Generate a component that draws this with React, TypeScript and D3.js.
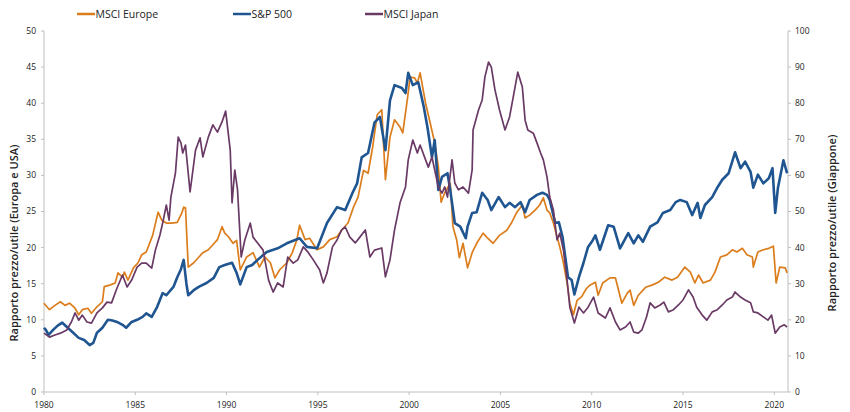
import React from "react";
import * as d3 from "d3";

const seriesNames = ["MSCI Europe", "S&P 500", "MSCI Japan"];
const seriesColors = ["#DC7D1C", "#1F5591", "#6A3A66"];

const xTicks = [1980, 1985, 1990, 1995, 2000, 2005, 2010, 2015, 2020];
const leftTicks = [0, 5, 10, 15, 20, 25, 30, 35, 40, 45, 50];
const rightTicks = [0, 10, 20, 30, 40, 50, 60, 70, 80, 90, 100];

const leftTitle = "Rapporto prezzo/utile (Europa e USA)";
const rightTitle = "Rapporto prezzo/utile (Giappone)";

// [year, P/E]
const europe: [number, number][] = [
  [1980.0,12.3],[1980.3,11.4],[1980.6,12.0],[1980.9,12.5],[1981.15,12.0],[1981.4,12.3],[1981.7,11.6],[1981.9,10.7],[1982.1,11.4],[1982.4,11.6],[1982.6,10.9],[1982.9,11.8],[1983.2,12.5],[1983.3,14.6],[1983.6,14.8],[1983.9,15.1],[1984.05,16.5],[1984.3,15.9],[1984.4,16.6],[1984.6,15.5],[1984.9,17.2],[1985.15,17.9],[1985.35,19.0],[1985.6,19.4],[1985.95,21.7],[1986.25,24.9],[1986.45,23.8],[1986.7,23.4],[1987.0,23.4],[1987.3,23.5],[1987.55,24.8],[1987.65,25.6],[1987.75,25.5],[1987.9,17.3],[1988.2,17.9],[1988.45,18.6],[1988.7,19.3],[1989.0,19.7],[1989.25,20.4],[1989.5,21.1],[1989.75,22.9],[1989.9,22.0],[1990.1,21.5],[1990.35,20.6],[1990.55,21.0],[1990.75,16.9],[1991.1,18.7],[1991.45,19.3],[1991.8,17.3],[1992.1,18.7],[1992.4,17.9],[1992.65,15.8],[1992.9,16.9],[1993.3,17.9],[1993.6,19.3],[1993.85,21.1],[1994.0,23.1],[1994.3,21.1],[1994.55,21.3],[1994.95,19.7],[1995.3,20.1],[1995.65,21.1],[1996.05,21.5],[1996.3,22.4],[1996.65,23.4],[1996.95,25.6],[1997.2,27.0],[1997.5,30.7],[1997.75,30.3],[1998.0,33.9],[1998.25,38.4],[1998.5,39.1],[1998.7,29.4],[1998.95,35.3],[1999.2,37.7],[1999.5,36.7],[1999.65,35.9],[1999.9,40.5],[2000.05,43.6],[2000.3,43.5],[2000.45,42.8],[2000.6,44.2],[2000.9,40.0],[2001.15,37.3],[2001.4,34.5],[2001.6,31.2],[2001.75,26.3],[2001.95,27.6],[2002.25,28.9],[2002.4,22.9],[2002.6,21.1],[2002.75,18.6],[2002.95,20.6],[2003.2,17.2],[2003.45,19.3],[2003.7,20.6],[2004.05,22.0],[2004.3,21.3],[2004.6,20.6],[2004.95,21.7],[2005.35,22.4],[2005.6,23.4],[2005.9,24.9],[2006.2,25.9],[2006.35,24.1],[2006.6,24.5],[2006.9,25.2],[2007.15,25.9],[2007.35,26.9],[2007.55,25.2],[2007.7,24.8],[2007.9,23.4],[2008.1,21.5],[2008.25,20.1],[2008.45,17.9],[2008.65,15.1],[2008.8,12.3],[2009.0,10.7],[2009.2,12.7],[2009.45,13.2],[2009.7,14.3],[2009.9,14.8],[2010.2,15.2],[2010.35,13.4],[2010.6,15.1],[2011.0,15.8],[2011.3,15.8],[2011.65,12.3],[2011.95,13.7],[2012.1,14.1],[2012.3,12.0],[2012.55,13.4],[2012.95,14.5],[2013.3,14.8],[2013.65,15.2],[2014.0,15.9],[2014.4,15.5],[2014.7,15.9],[2015.1,17.3],[2015.4,16.6],[2015.65,15.1],[2015.85,16.2],[2016.1,15.1],[2016.5,15.5],[2016.75,16.6],[2017.05,18.7],[2017.4,19.0],[2017.7,19.7],[2017.95,19.4],[2018.25,19.9],[2018.5,19.0],[2018.8,18.7],[2018.85,17.3],[2019.1,19.4],[2019.4,19.7],[2019.7,19.9],[2019.95,20.2],[2020.1,15.1],[2020.3,17.3],[2020.6,17.2],[2020.7,16.5]
];

const sp500: [number, number][] = [
  [1980.0,8.9],[1980.1,8.6],[1980.25,7.9],[1980.5,8.6],[1980.75,9.2],[1981.0,9.6],[1981.3,8.9],[1981.6,8.2],[1981.9,7.5],[1982.2,7.2],[1982.5,6.5],[1982.7,6.8],[1982.9,8.2],[1983.2,8.9],[1983.5,10.0],[1983.75,9.9],[1984.0,9.7],[1984.3,9.3],[1984.5,8.9],[1984.8,9.7],[1985.1,10.0],[1985.4,10.4],[1985.6,10.9],[1985.9,10.4],[1986.2,11.8],[1986.5,13.7],[1986.7,13.4],[1987.1,14.6],[1987.3,15.9],[1987.5,17.0],[1987.65,18.3],[1987.8,15.0],[1987.9,13.4],[1988.2,14.1],[1988.5,14.6],[1988.9,15.1],[1989.3,15.8],[1989.6,17.3],[1989.9,17.6],[1990.3,17.9],[1990.55,16.5],[1990.75,14.9],[1991.1,17.3],[1991.4,17.6],[1991.7,18.3],[1992.2,19.4],[1992.8,19.9],[1993.3,20.6],[1994.0,21.3],[1994.4,20.1],[1994.96,19.9],[1995.5,23.4],[1996.05,25.6],[1996.5,25.2],[1996.9,27.6],[1997.15,28.9],[1997.4,32.5],[1997.75,33.1],[1998.1,37.3],[1998.4,38.1],[1998.7,33.5],[1998.95,40.4],[1999.2,42.5],[1999.6,42.1],[1999.8,41.4],[1999.95,44.2],[2000.2,42.5],[2000.5,42.9],[2000.8,39.5],[2001.0,36.7],[2001.25,32.5],[2001.4,34.9],[2001.6,28.0],[2001.8,29.8],[2002.1,30.3],[2002.25,28.0],[2002.5,23.4],[2002.8,22.9],[2003.1,21.3],[2003.2,22.9],[2003.45,24.8],[2003.7,24.9],[2004.0,27.6],[2004.3,26.6],[2004.5,25.2],[2004.9,27.0],[2005.25,25.6],[2005.5,26.2],[2005.8,25.6],[2006.1,26.3],[2006.35,24.9],[2006.6,26.6],[2007.0,27.3],[2007.3,27.6],[2007.55,27.3],[2007.7,26.6],[2008.0,23.4],[2008.2,23.5],[2008.4,21.5],[2008.55,18.7],[2008.7,15.9],[2008.9,15.5],[2009.05,13.5],[2009.3,15.9],[2009.55,17.9],[2009.8,20.1],[2010.05,21.0],[2010.2,21.7],[2010.45,19.7],[2010.9,23.1],[2011.2,22.9],[2011.55,19.9],[2012.0,22.0],[2012.3,20.6],[2012.55,21.7],[2012.8,20.8],[2013.2,22.9],[2013.6,23.5],[2013.9,24.8],[2014.3,25.2],[2014.6,26.3],[2014.85,26.6],[2015.2,26.3],[2015.5,24.5],[2015.8,26.2],[2015.95,24.1],[2016.2,25.9],[2016.6,27.0],[2016.9,28.4],[2017.15,29.4],[2017.5,30.3],[2017.85,33.2],[2018.15,31.0],[2018.4,31.9],[2018.7,30.5],[2018.85,28.3],[2019.1,30.1],[2019.4,28.9],[2019.7,29.6],[2019.9,31.0],[2020.05,24.8],[2020.2,28.3],[2020.5,32.1],[2020.7,30.3]
];

const japan: [number, number][] = [
  [1980.0,16.3],[1980.3,15.2],[1980.6,15.8],[1980.9,16.3],[1981.25,17.2],[1981.5,19.4],[1981.7,21.9],[1981.9,19.9],[1982.1,21.3],[1982.35,19.4],[1982.6,19.1],[1982.9,21.9],[1983.2,23.3],[1983.45,24.9],[1983.7,24.7],[1984.0,28.8],[1984.3,32.4],[1984.55,29.1],[1984.8,31.0],[1985.1,34.6],[1985.35,35.7],[1985.6,35.7],[1985.9,34.3],[1986.1,39.3],[1986.35,43.5],[1986.5,46.8],[1986.7,51.8],[1986.85,47.6],[1986.95,54.0],[1987.2,60.7],[1987.35,70.6],[1987.5,69.0],[1987.6,66.2],[1987.75,68.4],[1988.0,55.4],[1988.3,67.0],[1988.55,70.4],[1988.7,65.1],[1989.0,70.6],[1989.25,74.0],[1989.5,72.0],[1989.75,74.8],[1989.95,77.8],[1990.2,67.0],[1990.3,52.4],[1990.45,61.5],[1990.6,56.0],[1990.8,37.4],[1991.0,42.1],[1991.3,46.8],[1991.45,42.9],[1991.7,41.3],[1992.0,39.3],[1992.3,31.0],[1992.55,27.7],[1992.8,30.2],[1993.1,29.1],[1993.35,37.4],[1993.65,35.7],[1993.9,36.6],[1994.2,40.2],[1994.45,38.8],[1994.75,36.6],[1995.1,33.8],[1995.3,30.2],[1995.5,33.0],[1995.8,40.2],[1996.05,42.1],[1996.3,44.9],[1996.5,45.7],[1996.75,42.9],[1997.05,41.3],[1997.3,42.9],[1997.6,44.9],[1997.85,37.4],[1998.1,39.3],[1998.5,39.9],[1998.7,31.9],[1998.95,36.6],[1999.2,44.9],[1999.5,52.4],[1999.8,56.8],[1999.95,64.3],[2000.2,69.8],[2000.45,66.2],[2000.6,68.4],[2000.9,64.3],[2001.05,62.3],[2001.25,65.1],[2001.4,61.5],[2001.6,56.8],[2001.8,55.1],[2001.95,56.8],[2002.1,54.0],[2002.35,64.3],[2002.5,57.9],[2002.7,56.0],[2002.95,56.8],[2003.25,55.1],[2003.45,61.5],[2003.5,72.6],[2003.8,78.1],[2004.0,80.9],[2004.15,87.3],[2004.35,91.4],[2004.5,90.0],[2004.7,83.7],[2004.95,78.1],[2005.25,72.6],[2005.5,76.2],[2005.7,81.7],[2005.95,88.6],[2006.2,84.5],[2006.35,75.3],[2006.5,72.6],[2006.8,71.7],[2007.0,69.0],[2007.2,66.2],[2007.35,64.3],[2007.55,59.6],[2007.7,54.0],[2007.9,50.4],[2008.1,42.1],[2008.25,44.0],[2008.45,39.3],[2008.65,31.0],[2008.8,23.5],[2009.05,19.1],[2009.3,23.5],[2009.55,21.9],[2009.8,23.5],[2010.1,26.3],[2010.35,21.9],[2010.75,20.5],[2011.0,23.3],[2011.3,19.4],[2011.55,17.2],[2011.85,18.0],[2012.1,19.4],[2012.3,16.6],[2012.55,16.3],[2012.75,17.2],[2013.0,20.8],[2013.2,24.7],[2013.45,23.3],[2013.75,24.1],[2013.95,24.9],[2014.2,22.2],[2014.45,22.7],[2014.75,24.1],[2015.0,25.5],[2015.3,28.3],[2015.55,26.3],[2015.75,23.5],[2016.05,21.3],[2016.3,19.9],[2016.6,22.2],[2016.85,22.7],[2017.15,24.1],[2017.4,25.5],[2017.7,26.3],[2017.85,27.7],[2018.15,26.3],[2018.4,25.5],[2018.7,24.7],[2018.85,22.2],[2019.1,21.9],[2019.4,20.8],[2019.65,19.9],[2019.85,21.3],[2020.05,16.3],[2020.3,18.0],[2020.55,18.6],[2020.7,18.0]
];

const W = 850;
const H = 412;
const M = { left: 44, right: 62, top: 31, bottom: 20 };

const titleFont = "'Open Sans', Lato, sans-serif";
const tickFont = "'Open Sans', 'Liberation Sans', sans-serif";

export default function App() {
  const x = d3.scaleLinear().domain([1980, 2020.75]).range([M.left, W - M.right]);
  const yL = d3.scaleLinear().domain([0, 50]).range([H - M.bottom, M.top]);
  const yR = d3.scaleLinear().domain([0, 100]).range([H - M.bottom, M.top]);

  const lineL = d3.line<[number, number]>().x((d) => x(d[0])).y((d) => yL(d[1]));
  const lineR = d3.line<[number, number]>().x((d) => x(d[0])).y((d) => yR(d[1]));

  const x0 = M.left;
  const x1 = W - M.right;
  const yb = H - M.bottom;
  const axisColor = "#BFBFBF";

  const legendX = [77, 233, 365];

  return (
    <svg width={W} height={H} style={{ position: "absolute", left: 0, top: 0, background: "#fff" }}>
      {/* legend */}
      {seriesNames.map((n, i) => (
        <g key={n}>
          <line x1={legendX[i]} x2={legendX[i] + 18} y1={14} y2={14} stroke={seriesColors[i]} strokeWidth={2.5} />
          <text x={legendX[i] + 18.5} y={14} dy="0.35em" fontFamily={titleFont} fontSize={10.5} fill="#222">{n}</text>
        </g>
      ))}

      {/* axes lines */}
      <line x1={x0} x2={x0} y1={M.top} y2={yb} stroke={axisColor} strokeWidth={1} />
      <line x1={x1} x2={x1} y1={M.top} y2={yb} stroke={axisColor} strokeWidth={1} />
      <line x1={x0} x2={x1} y1={yb} y2={yb} stroke={axisColor} strokeWidth={1} />

      {leftTicks.map((t) => (
        <g key={"l" + t}>
          <line x1={x0 - 3} x2={x0} y1={yL(t)} y2={yL(t)} stroke={axisColor} />
          <text x={x0 - 8} y={yL(t)} dy="0.35em" textAnchor="end" fontFamily={tickFont} fontSize={8.5} fill="#222">{t}</text>
        </g>
      ))}
      {rightTicks.map((t) => (
        <g key={"r" + t}>
          <line x1={x1} x2={x1 + 3} y1={yR(t)} y2={yR(t)} stroke={axisColor} />
          <text x={x1 + 7} y={yR(t)} dy="0.35em" textAnchor="start" fontFamily={tickFont} fontSize={8.5} fill="#222">{t}</text>
        </g>
      ))}
      {xTicks.map((t) => (
        <g key={"x" + t}>
          <line x1={x(t)} x2={x(t)} y1={yb} y2={yb + 3} stroke={axisColor} />
          <text x={x(t)} y={yb + 13} dy="0.35em" textAnchor="middle" fontFamily={tickFont} fontSize={8.5} fill="#222">{t}</text>
        </g>
      ))}

      {/* axis titles */}
      <text transform={`translate(14,243) rotate(-90)`} textAnchor="middle" dy="0.35em" fontFamily={titleFont} fontWeight={600} fontSize={11} fill="#222">{leftTitle}</text>
      <text transform={`translate(832,223) rotate(-90)`} textAnchor="middle" dy="0.35em" fontFamily={titleFont} fontWeight={600} fontSize={11} fill="#222">{rightTitle}</text>

      {/* series */}
      <path d={lineL(europe) || ""} fill="none" stroke={seriesColors[0]} strokeWidth={1.7} strokeLinejoin="round" />
      <path d={lineL(sp500) || ""} fill="none" stroke={seriesColors[1]} strokeWidth={2.6} strokeLinejoin="round" />
      <path d={lineR(japan) || ""} fill="none" stroke={seriesColors[2]} strokeWidth={1.7} strokeLinejoin="round" />
    </svg>
  );
}
